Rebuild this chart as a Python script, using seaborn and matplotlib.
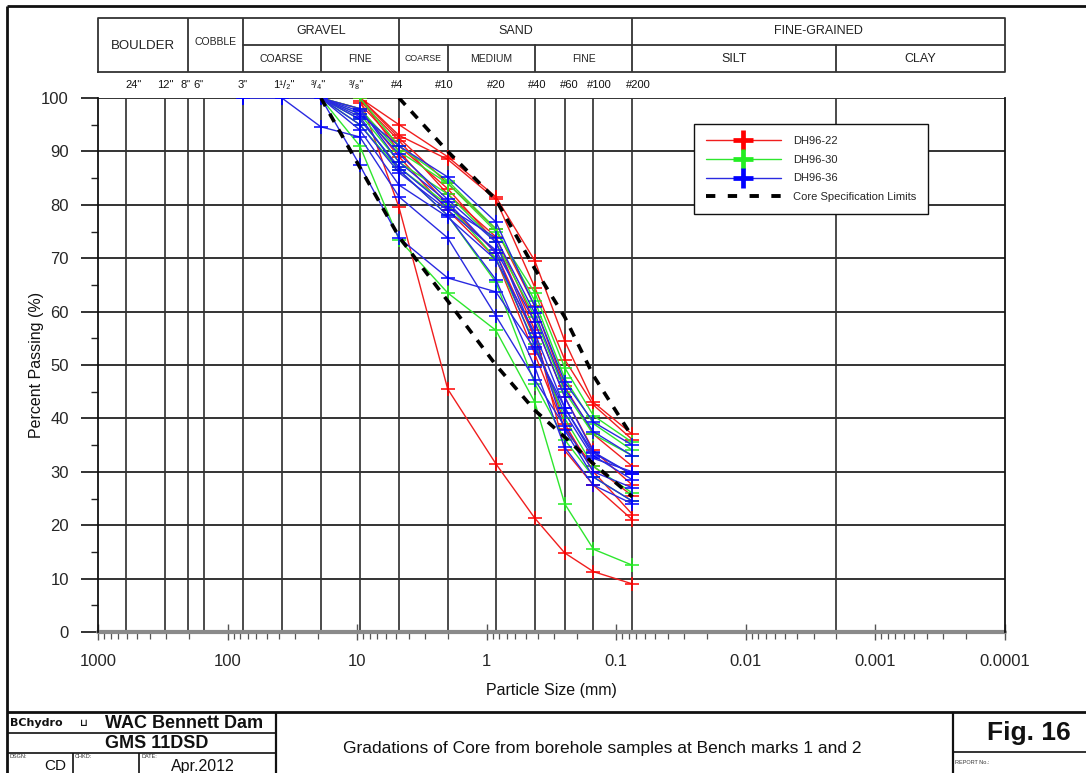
import numpy as np
import pandas as pd
import matplotlib
matplotlib.use("Agg")
import matplotlib.pyplot as plt
import matplotlib.transforms as mtransforms
from matplotlib import font_manager
from matplotlib.lines import Line2D
from matplotlib.ticker import FixedLocator, LogLocator, NullFormatter
import seaborn as sns

# ---------------------------------------------------------------------------
# Sieve openings (mm): 3", 1 1/2", 3/4", 3/8", #4, #10, #20, #40, #60, #100, #200
sieve_mm = [76.2, 38.1, 19.05, 9.525, 4.75, 2.0, 0.85, 0.425, 0.25, 0.15, 0.075]
nan = np.nan

# Percent passing for each sample, per borehole
dh96_22 = [
    [nan, nan, nan, 100.0, 95.0, 89.0, 81.5, 69.5, 54.5, 43.0, 37.0],
    [nan, nan, nan, 100.0, 93.0, 88.5, 81.0, 64.5, 51.0, 42.5, 36.0],
    [nan, nan, nan, 100.0, 92.5, 84.0, 75.5, 61.0, 46.0, 37.0, 31.0],
    [nan, nan, nan, 99.5, 92.0, 82.0, 74.0, 58.0, 44.0, 34.0, 27.5],
    [nan, nan, nan, 100.0, 90.0, 80.0, 71.0, 55.0, 39.0, 30.0, 22.0],
    [nan, nan, nan, 100.0, 79.5, 45.5, 31.5, 21.3, 14.8, 11.3, 9.0],
    [nan, nan, nan, 99.0, 91.0, 83.0, 73.0, 56.5, 34.0, 27.5, 21.0],
    [nan, nan, 100.0, 98.0, 89.0, 79.0, 70.0, 52.0, 38.0, 31.0, 25.5],
]
dh96_30 = [
    [nan, nan, 100.0, 98.0, 90.0, 84.0, 75.0, 63.5, 49.5, 40.5, 35.5],
    [nan, nan, 100.0, 97.0, 88.0, 82.0, 73.0, 59.0, 45.0, 37.0, 33.0],
    [nan, nan, 100.0, 91.0, 73.5, 63.5, 56.5, 43.0, 24.0, 15.5, 12.5],
    [nan, nan, 100.0, 95.0, 86.5, 78.0, 65.5, 46.5, 36.0, 29.0, 24.5],
    [nan, nan, nan, 100.0, 91.0, 84.5, 75.5, 62.0, 47.5, 39.0, 34.0],
    [nan, nan, 100.0, 96.0, 87.0, 80.0, 70.0, 54.0, 40.0, 31.0, 26.0],
]
dh96_36 = [
    [100.0, 100.0, 94.6, 92.7, 81.5, 73.8, 59.2, 47.2, 38.5, 30.0, 27.0],
    [nan, nan, 100.0, 87.4, 73.8, 66.3, 63.7, 53.0, 42.0, 33.5, 29.5],
    [100.0, 100.0, 100.0, 97.0, 91.0, 85.2, 76.8, 60.9, 46.8, 39.3, 35.0],
    [nan, nan, 100.0, 96.0, 87.0, 79.5, 73.8, 59.7, 45.5, 37.5, 33.0],
    [nan, nan, 100.0, 95.0, 86.0, 79.0, 71.5, 58.0, 44.0, 33.7, 29.5],
    [nan, nan, 100.0, 94.0, 83.7, 77.7, 69.7, 56.0, 42.0, 33.0, 28.5],
    [nan, nan, 100.0, 97.5, 89.5, 81.0, 73.0, 55.2, 37.8, 29.0, 24.5],
    [nan, nan, 100.0, 96.5, 86.5, 78.0, 66.0, 49.6, 34.6, 27.5, 24.0],
    [nan, nan, 100.0, 98.0, 88.0, 80.5, 71.0, 53.4, 41.0, 32.5, 30.0],
]
boreholes = ["DH96-22", "DH96-30", "DH96-36"]
borehole_colors = ["#f01e1e", "#2ee62e", "#2a2ae0"]
marker_colors = ["#ff0000", "#22ee22", "#0000ff"]

# Core specification envelope
upper_mm = [4.75, 2.0, 0.85, 0.425, 0.25, 0.15, 0.075]
upper_pass = [100, 90, 81, 68, 59, 48, 36.5]
lower_mm = [19.05, 9.525, 4.75, 2.0, 0.85, 0.425, 0.25, 0.15, 0.075]
lower_pass = [100, 87, 74, 62, 50, 41.5, 36.5, 31.5, 25.3]

# Vertical reference lines: 24", 12", 8", 6", sieves, silt/clay limit
grid_mm = [609.6, 304.8, 203.2, 152.4] + sieve_mm + [0.002]
size_labels = ['24"', '12"', '8"', '6"', '3"', '1¹/₂"', '³/₄"', '³/₈"',
               '#4', '#10', '#20', '#40', '#60', '#100', '#200']
label_mm = [609.6, 304.8, 203.2, 152.4] + sieve_mm
label_dx = [8, 0, -2, -5, 0, 2, -2, -3, -2, -3, 0, 2, 5, 6, 6]

decade_ticks = [1000, 100, 10, 1, 0.1, 0.01, 0.001, 0.0001]
decade_labels = ["1000", "100", "10", "1", "0.1", "0.01", "0.001", "0.0001"]

# ---------------------------------------------------------------------------
sns.set_theme(style="white")
installed = {f.name for f in font_manager.fontManager.ttflist}
narrow = "Liberation Sans Narrow" if "Liberation Sans Narrow" in installed else "Liberation Sans"
plt.rcParams["font.family"] = ["Liberation Sans", "DejaVu Sans"]

W, H = 1086, 773
fig = plt.figure(figsize=(W / 100, H / 100), dpi=100)

# Long-form table of all gradation curves
rows = []
for bh, samples in zip(boreholes, [dh96_22, dh96_30, dh96_36]):
    for i, vals in enumerate(samples):
        for mm, p in zip(sieve_mm, vals):
            if not np.isnan(p):
                rows.append({"borehole": bh, "sample": f"{bh}-{i}", "size": mm, "passing": p})
df = pd.DataFrame(rows)

x0, x1, y0, y1 = 98, 1005, 98, 632
ax = fig.add_axes([x0 / W, 1 - y1 / H, (x1 - x0) / W, (y1 - y0) / H])
ax.set_xscale("log")
ax.set_xlim(1000, 1e-4)
ax.set_ylim(0, 100)

for mm in grid_mm:
    ax.axvline(mm, color="#1a1a1a", lw=1.1, zorder=1)
for v in range(10, 101, 10):
    ax.axhline(v, color="#333333", lw=1.4, zorder=1)
ax.axhline(0, color="#8a8a8a", lw=3, zorder=1, clip_on=False)

n_before = len(ax.lines)
sns.lineplot(data=df, x="size", y="passing", hue="borehole", units="sample",
             estimator=None, sort=False, palette=dict(zip(boreholes, borehole_colors)),
             hue_order=boreholes, marker="+", markersize=10, markeredgewidth=1.1,
             linewidth=1.0, legend=False, ax=ax, zorder=3)
# '+' markers take the colour of their own curve
mk = dict(zip(borehole_colors, marker_colors))
for ln in ax.lines[n_before:]:
    c = matplotlib.colors.to_hex(ln.get_color())
    ln.set_markeredgecolor(mk.get(c, c))

ax.plot(upper_mm, upper_pass, color="black", lw=2.6, ls=(0, (2.6, 2.4)), zorder=4)
ax.plot(lower_mm, lower_pass, color="black", lw=2.6, ls=(0, (2.6, 2.4)), zorder=4)

ax.set_xlabel("Particle Size (mm)", fontsize=11.5, color="#111111")
ax.set_ylabel("Percent Passing (%)", fontsize=11.5, color="#111111")
ax.xaxis.set_label_coords(0.5, -0.095)
ax.yaxis.set_label_coords(-0.06, 0.5)

for s in ["top", "bottom"]:
    ax.spines[s].set_visible(False)
for s in ["left", "right"]:
    ax.spines[s].set_visible(True)
    ax.spines[s].set_color("#111111")
    ax.spines[s].set_linewidth(1.3)

ax.xaxis.set_major_locator(FixedLocator(decade_ticks))
ax.set_xticklabels(decade_labels)
ax.xaxis.set_minor_locator(LogLocator(base=10, subs=np.arange(2, 10), numticks=20))
ax.xaxis.set_minor_formatter(NullFormatter())
ax.tick_params(axis="x", which="major", direction="inout", length=12, width=1.0,
               color="#555555", labelsize=12, pad=10, bottom=True)
ax.tick_params(axis="x", which="minor", direction="out", length=5, width=0.9,
               color="#555555", bottom=True)
ax.set_yticks(range(0, 101, 10))
ax.set_yticks(range(5, 100, 10), minor=True)
ax.tick_params(axis="y", which="major", direction="out", length=12, width=1.3,
               color="#222222", labelsize=12, pad=9, left=True)
ax.tick_params(axis="y", which="minor", direction="out", length=5, width=1.0,
               color="#222222", left=True)
ax.grid(False)

# Sieve designations above the chart
btrans = mtransforms.blended_transform_factory(ax.transData, ax.transAxes)
for mm, lab, dx in zip(label_mm, size_labels, label_dx):
    ax.annotate(lab, xy=(mm, 1.0), xycoords=btrans, xytext=(dx, 13),
                textcoords="offset pixels", ha="center", va="center",
                fontsize=8, family=[narrow, "DejaVu Sans"], color="#111111",
                annotation_clip=False)

# Soil classification header, on the same particle-size scale
hx = fig.add_axes([x0 / W, 1 - 72 / H, (x1 - x0) / W, (72 - 18) / H])
hx.set_xscale("log")
hx.set_xlim(1000, 1e-4)
hx.set_ylim(0, 1)
hx.axis("off")
lc = "#333333"
hx.plot([1000, 1e-4, 1e-4, 1000, 1000], [0, 0, 1, 1, 0], color=lc, lw=1.3, clip_on=False)
hx.plot([76.2, 1e-4], [0.5, 0.5], color=lc, lw=1.3)
for mm in [203.2, 76.2, 4.75, 0.075]:
    hx.plot([mm, mm], [0, 1], color=lc, lw=1.3)
for mm in [19.05, 2.0, 0.425, 0.002]:
    hx.plot([mm, mm], [0, 0.5], color=lc, lw=1.3)

def gmid(a, b):
    return np.sqrt(a * b)

hdr = [
    ("BOULDER", 1000, 203.2, 0.48, 9.5),
    ("COBBLE", 203.2, 76.2, 0.55, 7.5),
    ("GRAVEL", 76.2, 4.75, 0.75, 9.0),
    ("SAND", 4.75, 0.075, 0.75, 9.0),
    ("FINE-GRAINED", 0.075, 1e-4, 0.75, 9.0),
    ("COARSE", 76.2, 19.05, 0.25, 7.5),
    ("FINE", 19.05, 4.75, 0.25, 7.5),
    ("COARSE", 4.75, 2.0, 0.25, 6.3),
    ("MEDIUM", 2.0, 0.425, 0.25, 7.5),
    ("FINE", 0.425, 0.075, 0.25, 7.5),
    ("SILT", 0.075, 0.002, 0.25, 9.0),
    ("CLAY", 0.002, 1e-4, 0.25, 9.0),
]
for txt, a, b, yy, fs in hdr:
    hx.text(gmid(a, b), yy, txt, ha="center", va="center", fontsize=fs, color="#222222")

ax.legend(handles=[
    Line2D([], [], color=borehole_colors[i], lw=1.0, marker="+", markersize=15,
           markeredgewidth=3.4, markeredgecolor=marker_colors[i]) for i in range(3)
] + [Line2D([], [], color="black", lw=2.8, ls=(0, (2.4, 3.2)))],
    labels=boreholes + ["Core Specification Limits"],
    loc="upper left", bbox_to_anchor=(694 / W, 1 - 124 / H), bbox_transform=fig.transFigure,
    borderaxespad=0, fontsize=8, handlelength=6.8, handletextpad=1.1,
    labelspacing=0.8, borderpad=1.05, frameon=True, fancybox=False,
    framealpha=1, edgecolor="#111111")
ax.get_legend().get_frame().set_linewidth(1.0)

# Drawing frame and title block, in pixel coordinates
bg = fig.add_axes([0, 0, 1, 1], zorder=-5)
bg.set_xlim(0, W)
bg.set_ylim(H, 0)
bg.axis("off")
fc = "#111111"
def seg(xa, ya, xb, yb, lw=1.6):
    bg.plot([xa, xb], [ya, yb], color=fc, lw=lw, solid_capstyle="butt")

seg(7, 6, W, 6, 2.0)
seg(7, 6, 7, H, 2.0)
seg(7, 712, W, 712, 2.0)
seg(276, 712, 276, H, 1.6)
seg(7, 733, 276, 733, 1.2)
seg(7, 753, 276, 753, 1.2)
seg(73, 753, 73, H, 1.2)
seg(139, 753, 139, H, 1.2)
seg(953, 712, 953, H, 1.6)
seg(953, 752, W, 752, 1.2)

bfam = [narrow, "DejaVu Sans"]
bg.text(10, 723, "BChydro", ha="left", va="center", fontsize=8, fontweight="bold",
        family=["DejaVu Sans"], color=fc)
bg.text(84, 723, "⊔", ha="center", va="center", fontsize=7, fontweight="bold",
        family=["DejaVu Sans"], color=fc)
bg.text(105, 723, "WAC Bennett Dam", ha="left", va="center", fontsize=13,
        fontweight="bold", color=fc)
bg.text(157, 743, "GMS 11DSD", ha="center", va="center", fontsize=13,
        fontweight="bold", color=fc)
for x, lab in [(9, "DSGN:"), (75, "CHKD:"), (141, "DATE:")]:
    bg.text(x, 757, lab, ha="left", va="center", fontsize=4, color="#333333")
bg.text(55, 766, "CD", ha="center", va="center", fontsize=11, family=bfam, color=fc)
bg.text(203, 766, "Apr.2012", ha="center", va="center", fontsize=11.5, family=bfam, color=fc)
bg.text(602, 748, "Gradations of Core from borehole samples at Bench marks 1 and 2",
        ha="center", va="center", fontsize=12.5, family=bfam, color=fc)
bg.text(1029, 733, "Fig. 16", ha="center", va="center", fontsize=19, fontweight="bold",
        color=fc)
bg.text(955, 763, "REPORT No.:", ha="left", va="center", fontsize=4, color="#333333")

fig.savefig("out.png", dpi=100)
